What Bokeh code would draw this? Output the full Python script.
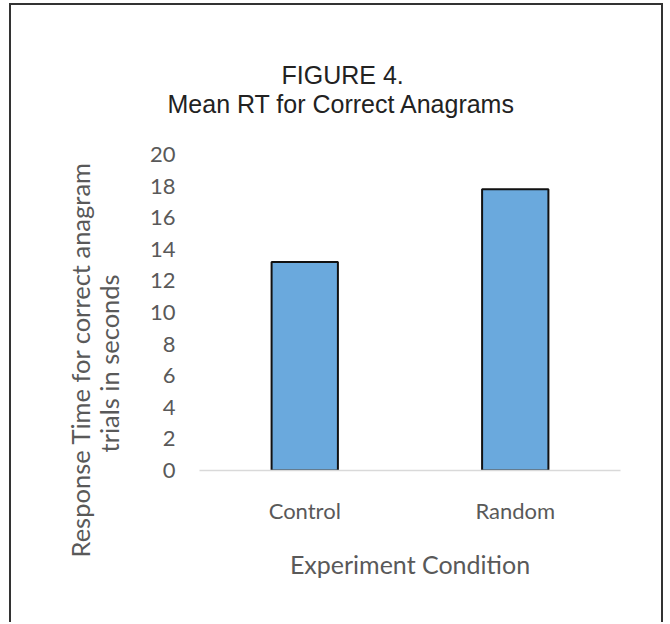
from bokeh.plotting import figure
from bokeh.models import Title, FixedTicker, FactorRange, Range1d, ColumnDataSource
from bokeh.embed import file_html
from bokeh.resources import INLINE

# ---- data ----
categories = ["Control", "Random"]
mean_rt = [13.2, 17.8]
y_ticks = [0, 2, 4, 6, 8, 10, 12, 14, 16, 18, 20]
title_lines = ["FIGURE 4.", "Mean RT for Correct Anagrams"]
x_title = "Experiment Condition"
y_title_lines = ["Response Time for correct anagram", "trials in seconds"]

src = ColumnDataSource(dict(cat=categories, rt=mean_rt))

p = figure(
    x_range=FactorRange(factors=categories, range_padding=0),
    y_range=Range1d(0, 20),
    width=654, height=619,
    output_backend="svg", toolbar_location=None,
    min_border_left=188, min_border_right=45,
    min_border_top=149, min_border_bottom=154,
    styles={"margin-left": "9px", "margin-top": "3px",
            "border-left": "2px solid #333", "border-top": "2px solid #333",
            "border-right": "2px solid #333"},
)
p.outline_line_color = None
p.background_fill_color = "white"
p.border_fill_color = "white"
p.xgrid.grid_line_color = None
p.ygrid.grid_line_color = None

p.vbar(x="cat", top="rt", width=0.315, source=src,
       fill_color="#6aa9dd", line_color="#111111", line_width=2)

# y axis
p.yaxis.ticker = FixedTicker(ticks=y_ticks)
p.yaxis.axis_line_color = None
p.yaxis.major_tick_line_color = None
p.yaxis.minor_tick_line_color = None
p.yaxis.major_label_standoff = 18
p.yaxis.major_label_text_font = "Lato"
p.yaxis.major_label_text_font_size = "22px"
p.yaxis.major_label_text_color = "#595959"

# x axis
p.xaxis.axis_line_color = "#d9d9d9"
p.xaxis.axis_line_width = 1.5
p.xaxis.major_tick_line_color = None
p.xaxis.minor_tick_line_color = None
p.xaxis.major_label_standoff = 20
p.xaxis.major_label_text_font = "Lato"
p.xaxis.major_label_text_font_size = "22px"
p.xaxis.major_label_text_color = "#595959"
p.xaxis.axis_label = x_title
p.xaxis.axis_label_standoff = 22
p.xaxis.axis_label_text_font = "Lato"
p.xaxis.axis_label_text_font_size = "25px"
p.xaxis.axis_label_text_font_style = "normal"
p.xaxis.axis_label_text_color = "#595959"

# main title: two lines, nearest line added first
p.add_layout(Title(text=title_lines[1], align="left", offset=-32, standoff=74,
                   text_font="Liberation Sans", text_font_size="25px",
                   text_font_style="normal", text_color="#222222"), "above")
p.add_layout(Title(text=title_lines[0], align="left", offset=82, standoff=-76,
                   text_font="Liberation Sans", text_font_size="25px",
                   text_font_style="normal", text_color="#222222"), "above")

# y axis title: two lines, nearest line added first
p.add_layout(Title(text=y_title_lines[1], align="left", offset=18, standoff=46,
                   text_font="Lato", text_font_size="25.5px",
                   text_font_style="normal", text_color="#595959"), "left")
p.add_layout(Title(text=y_title_lines[0], align="left", offset=-87, standoff=-52,
                   text_font="Lato", text_font_size="25.5px",
                   text_font_style="normal", text_color="#595959"), "left")

open("out.html", "w").write(file_html(p, INLINE))
